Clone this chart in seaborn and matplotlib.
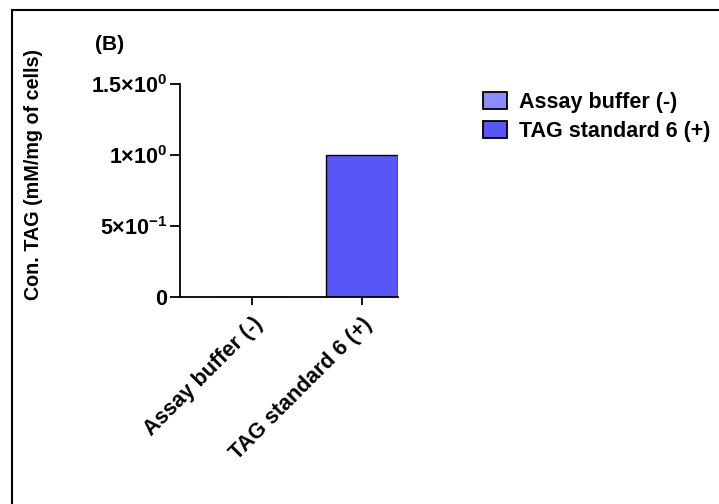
import matplotlib
matplotlib.use("Agg")
import matplotlib.pyplot as plt
import seaborn as sns
import pandas as pd
from matplotlib.patches import Rectangle, Patch

# ---------------------------
# data
# ---------------------------
categories = ["Assay buffer (-)", "TAG standard 6 (+)"]
tag_conc = [0.0, 1.0]
colors = ["#8C8CFF", "#5757F7"]
y_ticks = [0, 0.5, 1.0, 1.5]
y_tick_labels = ["0", r"5×10$^{-1}$", r"1×10$^{0}$", r"1.5×10$^{0}$"]

df = pd.DataFrame({"group": categories, "value": tag_conc})

sns.set_style("ticks")
plt.rcParams["font.family"] = ["Liberation Sans", "DejaVu Sans"]
plt.rcParams["font.weight"] = "bold"
plt.rcParams["text.color"] = "black"
plt.rcParams["axes.labelcolor"] = "black"
plt.rcParams["xtick.color"] = "black"
plt.rcParams["ytick.color"] = "black"
plt.rcParams["axes.edgecolor"] = "black"
plt.rcParams["mathtext.fontset"] = "custom"
plt.rcParams["mathtext.rm"] = "Liberation Sans:bold"
plt.rcParams["mathtext.it"] = "Liberation Sans:bold"
plt.rcParams["mathtext.bf"] = "Liberation Sans:bold"

W, H = 719, 504
fig = plt.figure(figsize=(W / 100, H / 100), dpi=100)
ax = fig.add_axes([180 / W, 1 - 297 / H, 218 / W, 213 / H])

sns.barplot(data=df, x="group", y="value", hue="group", palette=colors,
            saturation=1, width=0.66, edgecolor="black", linewidth=1.0,
            ax=ax, legend=False)

ax.set_xlim(-0.655, 1.33)
ax.set_ylim(0, 1.5)
ax.set_yticks(y_ticks)
ax.set_yticklabels(y_tick_labels)
ax.tick_params(axis="y", length=7, width=1.3, pad=2, labelsize=15.5)
ax.tick_params(axis="x", length=6, width=1.3, pad=6, labelsize=15.5)
for lab in ax.get_xticklabels():
    lab.set_rotation(45)
    lab.set_ha("right")
    lab.set_rotation_mode("anchor")
    lab.set_fontweight("bold")
for lab in ax.get_yticklabels():
    lab.set_fontweight("bold")

ax.set_xlabel("")
ax.set_ylabel("Con. TAG (mM/mg of cells)", fontsize=14.2, fontweight="bold")
ax.yaxis.set_label_coords(43 / W, 1 - 175 / H, transform=fig.transFigure)

sns.despine(ax=ax)
for sp in ["left", "bottom"]:
    ax.spines[sp].set_linewidth(1.3)

handles = [Patch(facecolor=c, edgecolor="black", linewidth=1.3) for c in colors]
ax.legend(handles, categories, loc="upper left",
          bbox_to_anchor=(483 / W, 1 - 92 / H), bbox_transform=fig.transFigure,
          frameon=False, borderpad=0, borderaxespad=0,
          handlelength=1.1, handleheight=0.8,
          handletextpad=0.55, labelspacing=0.36,
          prop={"size": 15.5, "weight": "bold"})

fig.text(95 / W, 1 - 45 / H, "(B)", fontsize=15, fontweight="bold", va="center")

# outer frame
fig.patches.append(Rectangle((12 / W, -0.1), 1.2, 1 - 10 / H + 0.1,
                             transform=fig.transFigure, fill=False,
                             edgecolor="black", linewidth=1.5))

fig.savefig("out.png", dpi=100)
